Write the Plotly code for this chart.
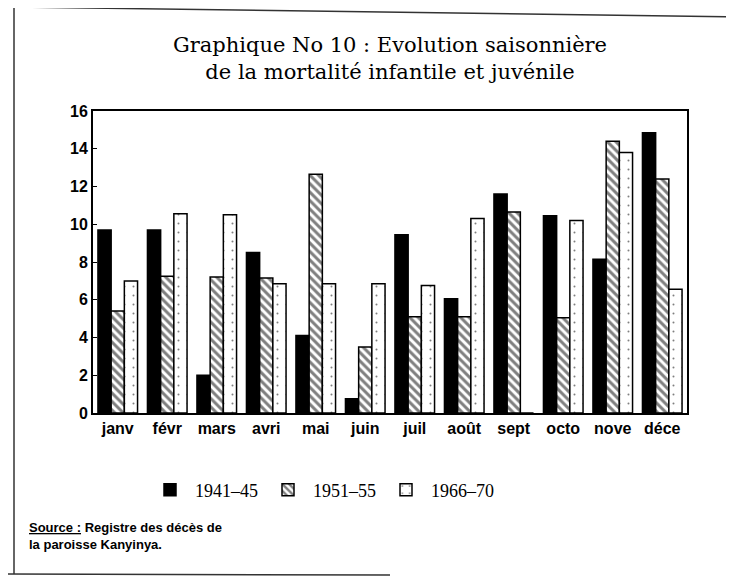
import plotly.graph_objects as go

# données
mois = ["janv", "févr", "mars", "avri", "mai", "juin",
        "juil", "août", "sept", "octo", "nove", "déce"]
p1941 = [9.7, 9.7, 2.0, 8.5, 4.1, 0.75, 9.45, 6.05, 11.6, 10.45, 8.15, 14.85]
p1951 = [5.4, 7.25, 7.2, 7.15, 12.65, 3.5, 5.1, 5.1, 10.65, 5.05, 14.4, 12.4]
p1966 = [7.0, 10.55, 10.5, 6.85, 6.85, 6.85, 6.75, 10.3, 0, 10.2, 13.8, 6.55]
y_ticks = [0, 2, 4, 6, 8, 10, 12, 14, 16]

W, H = 734, 577
OFF = 8  # marge par défaut du <body>
# zone du graphique, en pixels de l'image de référence
L, R, T, B = 93, 687, 111, 413


def px(x):
    return (x - L) / (R - L)


def py(y):
    return (B - y) / (B - T)


fig = go.Figure()

fig.add_trace(go.Bar(
    x=mois, y=p1941, name="1941–45",
    marker=dict(color="black", line=dict(color="black", width=1.5)),
))
fig.add_trace(go.Bar(
    x=mois, y=p1951, name="1951–55",
    marker=dict(color="white", line=dict(color="black", width=1.5),
                pattern=dict(shape="\\", fgcolor="black", bgcolor="white",
                             size=6, solidity=0.5)),
))
fig.add_trace(go.Bar(
    x=mois, y=p1966, name="1966–70",
    marker=dict(color="white", line=dict(color="black", width=1.5),
                pattern=dict(shape=".", fgcolor="black", bgcolor="white",
                             size=9, solidity=0.04)),
))

# cadre de la page (scan)
cadre = [
    (14, 7, 740, 17),
    (14, 7, 14, 574),
    (8, 574, 390, 575),
]
shapes = [dict(type="line", xref="paper", yref="paper",
               x0=px(a), y0=py(b), x1=px(c), y1=py(d),
               line=dict(color="#333", width=1.5)) for a, b, c, d in cadre]

fig.update_layout(
    width=W, height=H,
    margin=dict(l=L - OFF, r=W - R + OFF, t=T - OFF, b=H - B + OFF),
    paper_bgcolor="white", plot_bgcolor="white",
    title=dict(
        text="Graphique No 10 : Evolution saisonnière<br>de la mortalité infantile et juvénile",
        x=(390 - OFF) / W, xanchor="center", y=1 - (52 - OFF) / H, yanchor="middle",
        font=dict(family="DejaVu Serif", size=21, color="black"),
    ),
    barmode="group", bargap=0.2, bargroupgap=0,
    xaxis=dict(showline=True, linecolor="black", linewidth=2, mirror=True,
               ticks="", tickfont=dict(family="Liberation Sans", size=16,
                                       color="black", weight="bold")),
    yaxis=dict(range=[0, 16], tickvals=y_ticks, showgrid=False, zeroline=False,
               showline=True, linecolor="black", linewidth=2, mirror=True,
               ticks="inside", ticklen=4, tickcolor="black",
               tickfont=dict(family="Liberation Sans", size=16,
                             color="black", weight="bold")),
    legend=dict(orientation="h", x=px(322), xanchor="center",
                y=py(490), yanchor="middle",
                font=dict(family="Liberation Serif", size=18, color="black"),
                itemwidth=40),
    shapes=shapes,
    annotations=[dict(
        xref="paper", yref="paper", x=px(27), y=py(536), xanchor="left",
        yanchor="middle", align="left", showarrow=False,
        text="<u>Source :</u> Registre des décès de<br>la paroisse Kanyinya.",
        font=dict(family="Liberation Sans", size=13, color="black", weight="bold"),
    )],
)

fig.write_html("out.html")
